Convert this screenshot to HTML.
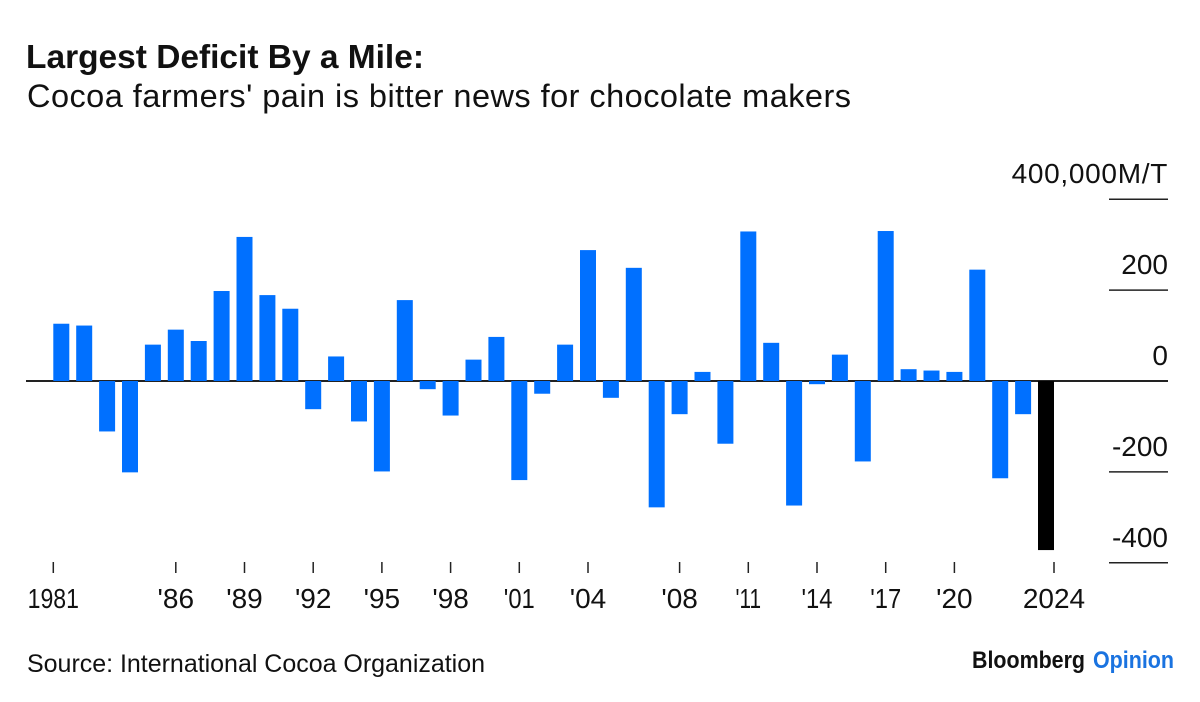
<!DOCTYPE html>
<html lang="en">
<head>
<meta charset="utf-8">
<title>Largest Deficit By a Mile</title>
<style>
html,body{margin:0;padding:0;background:#fff;}
svg{display:block;font-family:"Liberation Sans",Arial,sans-serif;}
text{fill:#111;}
</style>
</head>
<body>
<svg id="chart" width="1200" height="702" viewBox="0 0 1200 702" xmlns="http://www.w3.org/2000/svg">
  <rect x="0" y="0" width="1200" height="702" fill="#fff"></rect>
  <text x="26" y="68" font-size="33.5" font-weight="700" textLength="398" lengthAdjust="spacing">Largest Deficit By a Mile:</text>
  <text x="27" y="107" font-size="32.5" textLength="824" lengthAdjust="spacing">Cocoa farmers' pain is bitter news for chocolate makers</text>
  <g id="y-axis"></g>
  <g id="bars"></g>
  <g id="x-axis"></g>
  <text x="27" y="672" font-size="25" textLength="458" lengthAdjust="spacing">Source: International Cocoa Organization</text>
  <text x="972" y="668" font-size="24" font-weight="700" textLength="113" lengthAdjust="spacingAndGlyphs">Bloomberg</text>
  <text x="1093" y="668" font-size="24" font-weight="700" textLength="81" lengthAdjust="spacingAndGlyphs" style="fill:#1a73e0">Opinion</text>
</svg>
<script>
var years = [1981,1982,1983,1984,1985,1986,1987,1988,1989,1990,1991,1992,1993,1994,1995,1996,1997,1998,1999,2000,2001,2002,2003,2004,2005,2006,2007,2008,2009,2010,2011,2012,2013,2014,2015,2016,2017,2018,2019,2020,2021,2022,2023,2024];
var surplus = [126,122,-111,-201,80,113,88,198,317,189,159,-62,54,-89,-199,178,-18,-76,47,97,-218,-28,80,288,-37,249,-278,-73,20,-138,329,84,-274,-7,58,-177,330,26,23,20,245,-214,-73,-372];
var xTickYears = [1981,1986,1989,1992,1995,1998,2001,2004,2008,2011,2014,2017,2020,2024];
var xTickLabels = ['1981',"'86","'89","'92","'95","'98","'01","'04","'08","'11","'14","'17","'20",'2024'];
var yTickValues = [400,200,0,-200,-400];
var yTickLabels = ['400,000M/T','200','0','-200','-400'];

var NS = 'http://www.w3.org/2000/svg';
var barLeft = 53.3, barPitch = 22.9, barWidth = 16;
var firstYear = years[0], lastYear = years[years.length - 1];

function yScale(v) { return 381 - v * 0.4545; }
function xLeft(year) { return barLeft + (year - firstYear) * barPitch; }
function xTick(year) {
  if (year === firstYear) return xLeft(year);
  if (year === lastYear) return xLeft(year) + barWidth;
  return xLeft(year) + barWidth / 2;
}
function make(tag, attrs) {
  var el = document.createElementNS(NS, tag);
  for (var k in attrs) el.setAttribute(k, attrs[k]);
  return el;
}

var yAxis = document.getElementById('y-axis');
yTickValues.forEach(function (v, i) {
  var y = yScale(v);
  var isZero = v === 0;
  var line = make('line', { x1: isZero ? 26 : 1109, x2: 1168, y1: y, y2: y, stroke: '#222', 'stroke-width': isZero ? 2 : 1.5 });
  
  
  yAxis.appendChild(line);
  var label = make('text', { x: 1168, y: y - 16, 'text-anchor': 'end', 'font-size': 28, 'letter-spacing': i === 0 ? 0.7 : 0 });
  
  
  label.textContent = yTickLabels[i];
  yAxis.appendChild(label);
});

var barsGroup = document.getElementById('bars');
years.forEach(function (year, i) {
  var v = surplus[i];
  var top = yScale(Math.max(v, 0));
  var bottom = yScale(Math.min(v, 0));
  var bar = make('rect', { x: xLeft(year), y: top, width: barWidth, height: bottom - top, fill: year === lastYear ? '#000' : '#0070ff' });
  
  
  barsGroup.appendChild(bar);
});

var xAxis = document.getElementById('x-axis');
xTickYears.forEach(function (year, i) {
  var x = xTick(year);
  var tick = make('line', { x1: x, x2: x, y1: 562, y2: 573, stroke: '#222', 'stroke-width': 1.5 });
  
  
  xAxis.appendChild(tick);
  var text = xTickLabels[i];
  var ones = text.split('1').length - 1;
  var quotes = text.split("'").length - 1;
  var digits = text.length - quotes;
  var width = 15.57 * digits + 5.35 * quotes - 5.5 * ones;
  var label = make('text', { x: x, y: 608, 'text-anchor': 'middle', 'font-size': 28 });
  if (ones) {
    label.setAttribute('textLength', width);
    label.setAttribute('lengthAdjust', 'spacingAndGlyphs');
  }
  
  
  label.textContent = text;
  xAxis.appendChild(label);
});
</script>
</body>
</html>
